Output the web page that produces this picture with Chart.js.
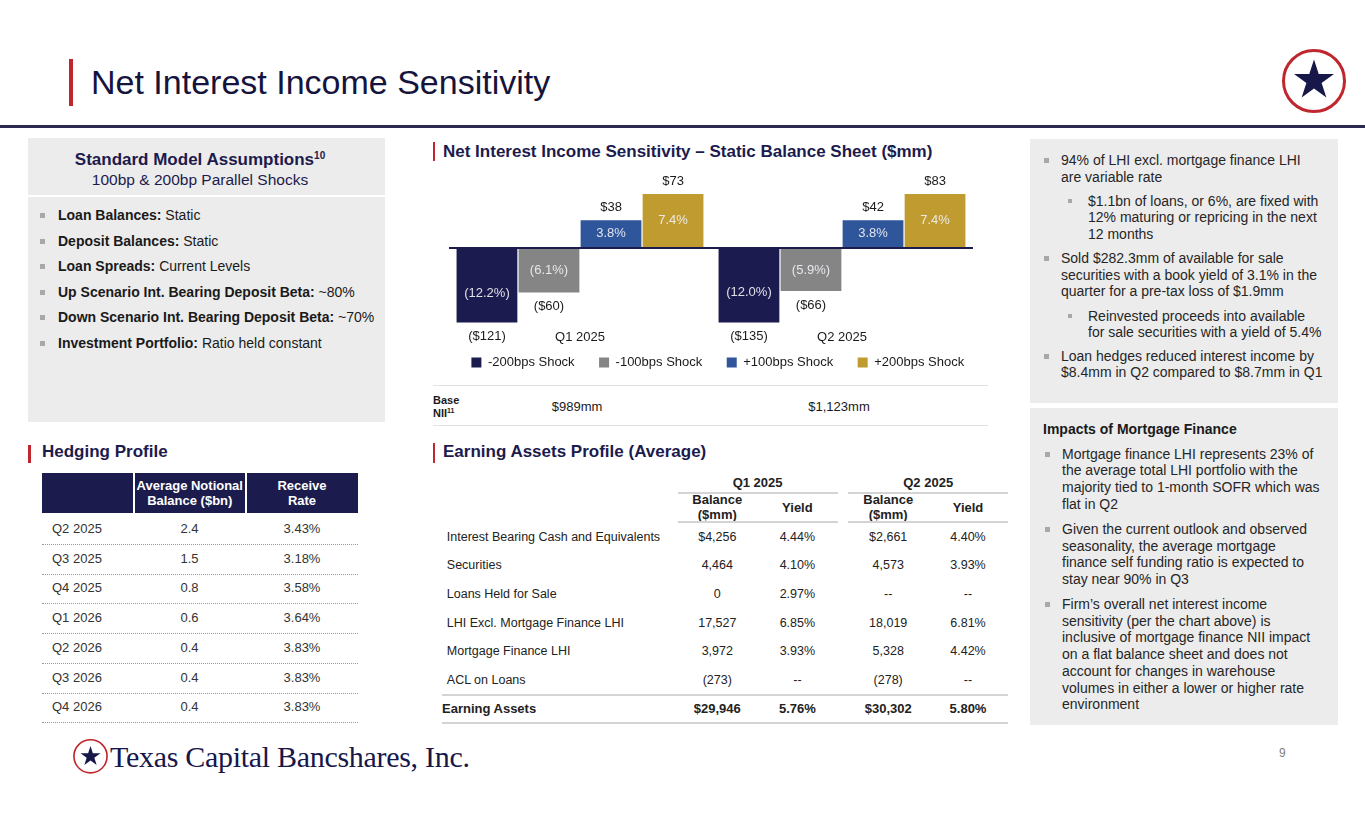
<!DOCTYPE html>
<html>
<head>
<meta charset="utf-8">
<script src="https://cdn.jsdelivr.net/npm/chart.js@4.4.1/dist/chart.umd.min.js"></script>
<style>
  html, body { margin:0; padding:0; background:#fff; }
  body { width:1365px; height:829px; position:relative; overflow:hidden; font-family:"Liberation Sans", Arial, sans-serif; color:#222; }
  .abs { position:absolute; white-space:nowrap; }
  .navy { color:#1c1b4d; }
  .redbar { position:absolute; background:#c0262d; }
  .panel { position:absolute; background:#ececec; }
  .sec { position:absolute; font-weight:bold; font-size:17px; line-height:20px; color:#1c1b4d; white-space:nowrap; }
  .lb { position:absolute; font-size:14px; line-height:17px; color:#1a1a1a; white-space:nowrap; }
  .lb::before { content:''; position:absolute; left:-18px; top:6px; width:5px; height:5px; background:#a8a8a8; }
  .rb { position:absolute; font-size:14px; line-height:16.7px; color:#262626; white-space:nowrap; }
  .rb::before { content:''; position:absolute; left:-17px; top:6px; width:5px; height:5px; background:#a8a8a8; }
  .rs { position:absolute; font-size:14px; line-height:16.7px; color:#262626; white-space:nowrap; }
  .rs::before { content:''; position:absolute; left:-20px; top:6.5px; width:3.5px; height:3.5px; background:#a8a8a8; }
  .hcell { position:absolute; background:#1c1b4d; color:#fff; font-weight:bold; font-size:13px; line-height:15.3px; display:flex; align-items:center; justify-content:center; text-align:center; }
  .trow { position:absolute; left:42px; width:316px; height:30px; border-bottom:1px dotted #9a9a9a; font-size:13px; color:#333; }
  .trow span { position:absolute; top:7px; line-height:16px; }
  .ea { position:absolute; font-size:12.5px; line-height:16px; color:#222; white-space:nowrap; }
  .c { transform:translateX(-50%); text-align:center; }
  .b { font-weight:bold; }
  .hl { position:absolute; background:#d4d4d4; }
</style>
</head>
<body>
<!-- header -->
<div class="redbar" style="left:69px;top:59px;width:3.5px;height:47px;"></div>
<div class="abs" style="left:91px;top:64.5px;font-size:34px;line-height:34px;color:#14143c;">Net Interest Income Sensitivity</div>
<div style="position:absolute;left:0;top:125px;width:1365px;height:2.5px;background:#2b2b4f;"></div>
<svg style="position:absolute;left:1276px;top:43px;" width="78" height="78" viewBox="0 0 78 78">
  <circle cx="38" cy="38" r="30.5" fill="#fff" stroke="#c0262d" stroke-width="3"/>
  <polygon transform="translate(38,37.5) scale(21)" fill="#17174a" points="0,-1 0.225,-0.309 0.951,-0.309 0.363,0.118 0.588,0.809 0,0.382 -0.588,0.809 -0.363,0.118 -0.951,-0.309 -0.225,-0.309"/>
</svg>

<!-- left panel -->
<div class="panel" style="left:28px;top:138px;width:357px;height:284px;"></div>
<div style="position:absolute;left:28px;top:195px;width:357px;height:2px;background:#fff;"></div>
<div class="abs c b navy" style="left:200px;top:150px;font-size:17px;line-height:20px;">Standard Model Assumptions<sup style="font-size:10px;vertical-align:6px;line-height:0;">10</sup></div>
<div class="abs c navy" style="left:200px;top:171px;font-size:15.5px;line-height:18px;">100bp &amp; 200bp Parallel Shocks</div>
<div class="lb" style="left:58px;top:207px;"><b>Loan Balances:</b> Static</div>
<div class="lb" style="left:58px;top:232.7px;"><b>Deposit Balances:</b> Static</div>
<div class="lb" style="left:58px;top:258.3px;"><b>Loan Spreads:</b> Current Levels</div>
<div class="lb" style="left:58px;top:284px;"><b>Up Scenario Int. Bearing Deposit Beta:</b> ~80%</div>
<div class="lb" style="left:58px;top:309.3px;"><b>Down Scenario Int. Bearing Deposit Beta:</b> ~70%</div>
<div class="lb" style="left:58px;top:335px;"><b>Investment Portfolio:</b> Ratio held constant</div>

<!-- hedging profile -->
<div class="redbar" style="left:28px;top:445px;width:2.5px;height:18px;"></div>
<div class="sec" style="left:42px;top:441.5px;">Hedging Profile</div>
<div class="hcell" style="left:42px;top:473px;width:91px;height:40px;"></div>
<div class="hcell" style="left:134.5px;top:473px;width:110.5px;height:40px;">Average Notional<br>Balance ($bn)</div>
<div class="hcell" style="left:246.5px;top:473px;width:111px;height:40px;">Receive<br>Rate</div>
<div id="hedgeRows"></div>

<!-- NII chart section -->
<div class="redbar" style="left:432.5px;top:142px;width:2.5px;height:19px;"></div>
<div class="sec" style="left:443px;top:141.5px;">Net Interest Income Sensitivity – Static Balance Sheet ($mm)</div>
<div style="position:absolute;left:425px;top:160px;width:600px;height:219px;"><canvas id="chart"></canvas></div>
<div class="hl" style="left:433px;top:385px;width:555px;height:1px;background:#e2e2e2;"></div>
<div class="abs b" style="left:433px;top:394px;font-size:11px;line-height:13px;color:#1a1a1a;">Base<br>NII<sup style="font-size:7px;vertical-align:4px;line-height:0;">11</sup></div>
<div id="baseNII"></div>
<div class="hl" style="left:433px;top:424.5px;width:555px;height:1px;background:#e2e2e2;"></div>

<!-- earning assets -->
<div class="redbar" style="left:432.5px;top:443px;width:2.5px;height:19.5px;"></div>
<div class="sec" style="left:443px;top:441.5px;">Earning Assets Profile (Average)</div>
<div id="eaTable"></div>

<!-- right panels -->
<div class="panel" style="left:1030px;top:139px;width:308px;height:264px;"></div>
<div class="rb" style="left:1061px;top:152px;">94% of LHI excl. mortgage finance LHI<br>are variable rate</div>
<div class="rs" style="left:1088px;top:192.5px;">$1.1bn of loans, or 6%, are fixed with<br>12% maturing or repricing in the next<br>12 months</div>
<div class="rb" style="left:1061px;top:250px;">Sold $282.3mm of available for sale<br>securities with a book yield of 3.1% in the<br>quarter for a pre-tax loss of $1.9mm</div>
<div class="rs" style="left:1088px;top:307.5px;">Reinvested proceeds into available<br>for sale securities with a yield of 5.4%</div>
<div class="rb" style="left:1061px;top:347.5px;">Loan hedges reduced interest income by<br>$8.4mm in Q2 compared to $8.7mm in Q1</div>

<div class="panel" style="left:1030px;top:408px;width:308px;height:317px;"></div>
<div class="abs b" style="left:1043px;top:421px;font-size:14px;line-height:17px;color:#1a1a1a;">Impacts of Mortgage Finance</div>
<div class="rb" style="left:1062px;top:445.5px;">Mortgage finance LHI represents 23% of<br>the average total LHI portfolio with the<br>majority tied to 1-month SOFR which was<br>flat in Q2</div>
<div class="rb" style="left:1062px;top:521px;">Given the current outlook and observed<br>seasonality, the average mortgage<br>finance self funding ratio is expected to<br>stay near 90% in Q3</div>
<div class="rb" style="left:1062px;top:596px;">Firm’s overall net interest income<br>sensitivity (per the chart above) is<br>inclusive of mortgage finance NII impact<br>on a flat balance sheet and does not<br>account for changes in warehouse<br>volumes in either a lower or higher rate<br>environment</div>

<!-- footer -->
<svg style="position:absolute;left:70px;top:736px;" width="42" height="42" viewBox="0 0 42 42">
  <circle cx="20.5" cy="20.3" r="16.6" fill="#fff" stroke="#c0262d" stroke-width="1.6"/>
  <polygon transform="translate(20.5,20.5) scale(10.5)" fill="#17174a" points="0,-1 0.225,-0.309 0.951,-0.309 0.363,0.118 0.588,0.809 0,0.382 -0.588,0.809 -0.363,0.118 -0.951,-0.309 -0.225,-0.309"/>
</svg>
<div class="abs" style="left:110px;top:740px;font-family:'Liberation Serif','DejaVu Serif',serif;font-size:30px;line-height:34px;color:#17174a;letter-spacing:-0.3px;">Texas Capital Bancshares, Inc.</div>
<div class="abs" style="left:1279px;top:746px;font-size:12px;line-height:14px;color:#808080;">9</div>

<script>
// ---------- data ----------
const categories = ['Q1 2025', 'Q2 2025'];
const seriesNames = ['-200bps Shock', '-100bps Shock', '+100bps Shock', '+200bps Shock'];
const pctDown200 = [-12.2, -12.0];
const pctDown100 = [-6.1, -5.9];
const pctUp100 = [3.8, 3.8];
const pctUp200 = [7.4, 7.4];
const usdDown200 = [-121, -135];
const usdDown100 = [-60, -66];
const usdUp100 = [38, 42];
const usdUp200 = [73, 83];
const baseNII = ['$989mm', '$1,123mm'];

const hedgeQuarters = ['Q2 2025', 'Q3 2025', 'Q4 2025', 'Q1 2026', 'Q2 2026', 'Q3 2026', 'Q4 2026'];
const hedgeNotional = ['2.4', '1.5', '0.8', '0.6', '0.4', '0.4', '0.4'];
const hedgeRate = ['3.43%', '3.18%', '3.58%', '3.64%', '3.83%', '3.83%', '3.83%'];

const eaLabels = ['Interest Bearing Cash and Equivalents', 'Securities', 'Loans Held for Sale', 'LHI Excl. Mortgage Finance LHI', 'Mortgage Finance LHI', 'ACL on Loans'];
const eaQ1Balance = ['$4,256', '4,464', '0', '17,527', '3,972', '(273)'];
const eaQ1Yield = ['4.44%', '4.10%', '2.97%', '6.85%', '3.93%', '--'];
const eaQ2Balance = ['$2,661', '4,573', '--', '18,019', '5,328', '(278)'];
const eaQ2Yield = ['4.40%', '3.93%', '--', '6.81%', '4.42%', '--'];
const eaTotal = ['Earning Assets', '$29,946', '5.76%', '$30,302', '5.80%'];

// ---------- tables ----------
(function () {
  let h = '';
  hedgeQuarters.forEach((q, i) => {
    const top = 514 + i * 29.7;
    h += `<div class="trow" style="top:${top}px;"><span style="left:10px;">${q}</span>` +
         `<span class="c" style="left:147.5px;">${hedgeNotional[i]}</span>` +
         `<span class="c" style="left:260px;">${hedgeRate[i]}</span></div>`;
  });
  document.getElementById('hedgeRows').innerHTML = h;

  const cols = [717.3, 797.4, 888.2, 968];
  let e = '';
  e += `<div class="ea b c" style="left:757.6px;top:474.5px;font-size:13px;">Q1 2025</div>`;
  e += `<div class="ea b c" style="left:928.2px;top:474.5px;font-size:13px;">Q2 2025</div>`;
  e += `<div class="hl" style="left:677.5px;top:491.5px;width:160px;height:2px;"></div>`;
  e += `<div class="hl" style="left:848.3px;top:491.5px;width:160px;height:2px;"></div>`;
  e += `<div class="ea b c" style="left:${cols[0]}px;top:492px;font-size:13px;line-height:15px;">Balance<br>($mm)</div>`;
  e += `<div class="ea b c" style="left:${cols[1]}px;top:499.5px;font-size:13px;">Yield</div>`;
  e += `<div class="ea b c" style="left:${cols[2]}px;top:492px;font-size:13px;line-height:15px;">Balance<br>($mm)</div>`;
  e += `<div class="ea b c" style="left:${cols[3]}px;top:499.5px;font-size:13px;">Yield</div>`;
  e += `<div class="hl" style="left:677.5px;top:521px;width:160px;height:2px;"></div>`;
  e += `<div class="hl" style="left:848.3px;top:521px;width:160px;height:2px;"></div>`;
  const rowY = [537.3, 565.7, 594.3, 623, 651.3, 680];
  eaLabels.forEach((lab, i) => {
    const t = rowY[i] - 8.5;
    e += `<div class="ea" style="left:446.8px;top:${t}px;">${lab}</div>`;
    [eaQ1Balance[i], eaQ1Yield[i], eaQ2Balance[i], eaQ2Yield[i]].forEach((v, k) => {
      e += `<div class="ea c" style="left:${cols[k]}px;top:${t}px;">${v}</div>`;
    });
  });
  e += `<div class="hl" style="left:442px;top:693.5px;width:566px;height:2px;"></div>`;
  e += `<div class="ea b" style="left:442px;top:700.5px;font-size:13px;">${eaTotal[0]}</div>`;
  eaTotal.slice(1).forEach((v, k) => {
    e += `<div class="ea b c" style="left:${cols[k]}px;top:700.5px;font-size:13px;">${v}</div>`;
  });
  e += `<div class="hl" style="left:442px;top:722px;width:566px;height:2px;"></div>`;
  document.getElementById('eaTable').innerHTML = e;
})();

// ---------- chart ----------
const CANVAS_LEFT = 425;
const fmtPct = v => v < 0 ? `(${Math.abs(v).toFixed(1)}%)` : `${v.toFixed(1)}%`;
const fmtUsd = v => v < 0 ? `($${Math.abs(v)})` : `$${v}`;

const barLabels = {
  id: 'barLabels',
  afterDatasetsDraw(chart) {
    const { ctx, chartArea } = chart;
    ctx.save();
    ctx.font = '13px "Liberation Sans", Arial, sans-serif';
    ctx.textAlign = 'center';
    ctx.textBaseline = 'middle';
    chart.data.datasets.forEach((ds, di) => {
      const meta = chart.getDatasetMeta(di);
      meta.data.forEach((el, i) => {
        const v = ds.data[i];
        ctx.fillStyle = 'rgba(240,240,245,0.92)';
        ctx.fillText(fmtPct(v), el.x, (el.y + el.base) / 2);
        ctx.fillStyle = '#1a1a1a';
        if (v >= 0) ctx.fillText(fmtUsd(ds.usd[i]), el.x, el.y - 13);
        else ctx.fillText(fmtUsd(ds.usd[i]), el.x, Math.min(el.y, chartArea.bottom) + 14);
      });
    });
    ctx.restore();
  },
  afterRender(chart) {
    const holder = document.getElementById('baseNII');
    if (holder.dataset.done) return;
    holder.dataset.done = '1';
    holder.innerHTML = categories.map((c, i) => {
      const x = CANVAS_LEFT + chart.scales.x.getPixelForValue(i);
      return `<div class="abs c" style="left:${x - 3}px;top:399px;font-size:13px;line-height:16px;color:#1a1a1a;">${baseNII[i]}</div>`;
    }).join('');
  }
};

const colors = ['#1c1b4f', '#858585', '#2f559b', '#bf9b30'];
const pctSeries = [pctDown200, pctDown100, pctUp100, pctUp200];
const usdSeries = [usdDown200, usdDown100, usdUp100, usdUp200];
const FONT = '"Liberation Sans", Arial, sans-serif';

new Chart(document.getElementById('chart'), {
  type: 'bar',
  data: {
    labels: categories,
    datasets: seriesNames.map((name, i) => ({
      label: name,
      data: pctSeries[i],
      usd: usdSeries[i],
      backgroundColor: colors[i],
      borderWidth: 0,
      categoryPercentage: 0.947,
      barPercentage: 0.98
    }))
  },
  options: {
    responsive: true,
    maintainAspectRatio: false,
    animation: false,
    layout: { padding: { left: 0, right: 0, top: 15, bottom: 0 } },
    plugins: {
      tooltip: { enabled: false },
      legend: {
        position: 'bottom',
        labels: {
          boxWidth: 10, boxHeight: 10, padding: 10, color: '#1a1a1a',
          font: { family: FONT, size: 13 },
          generateLabels(chart) {
            const items = Chart.defaults.plugins.legend.labels.generateLabels(chart);
            items.forEach(it => { it.text = it.text + '    '; });
            return items;
          }
        }
      }
    },
    scales: {
      x: {
        grid: { display: false, drawTicks: false },
        border: { display: false },
        ticks: { color: '#1a1a1a', padding: 7, font: { family: FONT, size: 13 } },
        afterFit(scale) { scale.height = 23.5; }
      },
      y: {
        min: -10.2, max: 10,
        border: { display: false },
        ticks: { display: false, stepSize: 5 },
        grid: {
          drawTicks: false,
          color: c => c.tick && c.tick.value === 0 ? '#1c1b4d' : 'rgba(0,0,0,0)',
          lineWidth: c => c.tick && c.tick.value === 0 ? 2 : 0
        },
        afterFit(scale) { scale.width = 24; }
      },
      yRight: {
        position: 'right',
        display: true,
        border: { display: false },
        grid: { display: false, drawTicks: false },
        ticks: { display: false },
        afterFit(scale) { scale.width = 52; }
      }
    }
  },
  plugins: [barLabels]
});
</script>
</body>
</html>
